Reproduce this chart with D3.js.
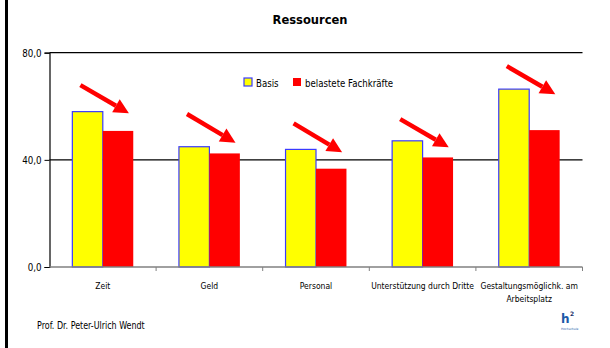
<!DOCTYPE html>
<html>
<head>
<meta charset="utf-8">
<script src="https://cdn.jsdelivr.net/npm/d3@7"></script>
<style>
  body { margin: 0; background: #fff; }
  svg { display: block; }
  text { font-family: "DejaVu Sans", sans-serif; fill: #000; }
</style>
</head>
<body>
<div></div>
<script>
var width = 610;
var height = 348;

// data
var categories = ["Zeit", "Geld", "Personal", "Unterstützung durch Dritte", "Gestaltungsmöglichk. am Arbeitsplatz"];
var seriesNames = ["Basis", "belastete Fachkräfte"];
var basis = [58.0, 44.9, 43.9, 47.1, 66.4];
var belastet = [50.8, 42.4, 36.7, 40.9, 51.1];
var yTicks = [0, 40, 80];
// decorative arrows, in value units (start -> tip)
var arrowFrom = [67.9, 57.1, 53.6, 55.2, 75.0];
var arrowTo = [57.4, 46.4, 42.8, 44.7, 64.5];

var colors = ["#ffff00", "#ff0000"];
var narrow = 0.83;

// squeeze text horizontally around its x (font on the slide is condensed)
var condense = (sel) => {
	sel.each(function () {
		var t = d3.select(this);
		var cx = +(t.attr("x") || 0);
		t.attr("transform", "translate(" + cx + ",0) scale(" + narrow + ",1) translate(" + (-cx) + ",0)");
	});
};

var svg = d3.select("div")
	.append("svg")
	.attr("width", width)
	.attr("height", height);

// left page border
svg.append("rect")
	.attr("x", 5).attr("y", 0)
	.attr("width", 3).attr("height", height)
	.attr("fill", "#000");

var x = d3.scaleBand()
	.domain(categories)
	.range([49.5, 582.5])
	.paddingInner(0)
	.paddingOuter(0);

var x1 = d3.scaleBand()
	.domain(seriesNames)
	.range([0, x.bandwidth()])
	.paddingInner(0)
	.paddingOuter(0.75);

var y = d3.scaleLinear()
	.domain([0, 80])
	.range([267, 52.7]);

// title
svg.append("text")
	.attr("x", 310)
	.attr("y", 24)
	.attr("text-anchor", "middle")
	.style("font-weight", "bold")
	.style("font-size", "11.5px")
	.text("Ressourcen");

// gridlines
svg.append("g")
	.selectAll("line")
	.data(yTicks.filter(d => d > 0))
	.enter()
	.append("line")
	.attr("x1", x.range()[0])
	.attr("x2", x.range()[1])
	.attr("y1", d => y(d))
	.attr("y2", d => y(d))
	.attr("stroke", "#000")
	.attr("stroke-width", 1.2);

// y axis
var yAxis = svg.append("g")
	.attr("transform", "translate(" + x.range()[0] + ",0)")
	.call(d3.axisLeft(y).tickValues(yTicks).tickSize(5).tickPadding(3)
		.tickFormat(d => d3.format(".1f")(d).replace(".", ",")));
yAxis.attr("font-family", null).attr("font-size", null);
yAxis.select(".domain").attr("stroke", "#000").attr("stroke-width", 1.2);
yAxis.selectAll(".tick line").attr("stroke", "#000");
yAxis.selectAll("text")
	.style("font-size", "10.5px")
	.call(condense);

// bars
var groups = svg.append("g")
	.selectAll("g")
	.data(categories)
	.enter()
	.append("g")
	.attr("transform", d => "translate(" + x(d) + ",0)");

groups.append("rect")
	.attr("x", x1(seriesNames[0]))
	.attr("y", (d, i) => y(basis[i]))
	.attr("width", x1.bandwidth())
	.attr("height", (d, i) => y(0) - y(basis[i]))
	.attr("fill", colors[0])
	.attr("stroke", "#3a3aff")
	.attr("stroke-width", 1.2);

groups.append("rect")
	.attr("x", x1(seriesNames[1]))
	.attr("y", (d, i) => y(belastet[i]))
	.attr("width", x1.bandwidth())
	.attr("height", (d, i) => y(0) - y(belastet[i]))
	.attr("fill", colors[1]);

// x axis (zero line)
var xAxis = svg.append("g")
	.attr("transform", "translate(0," + y(0) + ")");
xAxis.append("line")
	.attr("x1", x.range()[0])
	.attr("x2", x.range()[1])
	.attr("stroke", "#808080")
	.attr("stroke-width", 1.5);
xAxis.selectAll("line.tick")
	.data(categories.map(d => x(d)).concat([x.range()[1]]).slice(1))
	.enter()
	.append("line")
	.attr("class", "tick")
	.attr("x1", d => d).attr("x2", d => d)
	.attr("y1", 0).attr("y2", 4)
	.attr("stroke", "#808080");

// category labels, wrapped
var wrapped = {"Gestaltungsmöglichk. am Arbeitsplatz": ["Gestaltungsmöglichk. am", "Arbeitsplatz"]};
var catLabels = svg.append("g")
	.selectAll("text")
	.data(categories)
	.enter()
	.append("text")
	.attr("x", d => x(d) + x.bandwidth() / 2)
	.attr("y", 289)
	.attr("text-anchor", "middle")
	.style("font-size", "9.2px");
catLabels.each(function (d) {
	var lines = wrapped[d] || [d];
	d3.select(this).selectAll("tspan")
		.data(lines)
		.enter()
		.append("tspan")
		.attr("x", x(d) + x.bandwidth() / 2)
		.attr("dy", (l, i) => i === 0 ? 0 : 13.5)
		.text(l => l);
});
catLabels.call(condense);

// arrows
var arrows = svg.append("g");
categories.forEach((c, i) => {
	var x0 = x(c) + x.bandwidth() * 0.29;
	var xt = x(c) + x.bandwidth() * 0.745;
	var y0 = y(arrowFrom[i]);
	var yt = y(arrowTo[i]);
	var ang = Math.atan2(yt - y0, xt - x0);
	var headLen = 15, headW = 7.5;
	var bx = xt - headLen * Math.cos(ang), by = yt - headLen * Math.sin(ang);
	arrows.append("line")
		.attr("x1", x0).attr("y1", y0)
		.attr("x2", bx).attr("y2", by)
		.attr("stroke", "#ff0000")
		.attr("stroke-width", 4.5);
	var px = -Math.sin(ang), py = Math.cos(ang);
	arrows.append("path")
		.attr("d", "M" + xt + "," + yt +
			"L" + (bx + px * headW) + "," + (by + py * headW) +
			"L" + (bx - px * headW) + "," + (by - py * headW) + "Z")
		.attr("fill", "#ff0000");
});

// legend
var legend = svg.append("g").attr("transform", "translate(244,78)");
var legX = [0, 49];
seriesNames.forEach((s, i) => {
	legend.append("rect")
		.attr("x", legX[i]).attr("y", 0)
		.attr("width", 8).attr("height", 8)
		.attr("fill", colors[i])
		.attr("stroke", i === 0 ? "#3a3aff" : "none")
		.attr("stroke-width", 1.2);
	legend.append("text")
		.attr("x", legX[i] + 12)
		.attr("y", 9)
		.style("font-size", "10.4px")
		.text(s)
		.call(condense);
});

// footer
svg.append("text")
	.attr("x", 37)
	.attr("y", 329)
	.style("font-size", "9.6px")
	.text("Prof. Dr. Peter-Ulrich Wendt")
	.call(condense);

// small logo
var logo = svg.append("g").attr("transform", "translate(561,311)");
logo.append("text")
	.attr("x", 0).attr("y", 12)
	.style("font-weight", "bold")
	.style("font-size", "12px")
	.style("fill", "#1c5aa8")
	.text("h");
logo.append("text")
	.attr("x", 9).attr("y", 5)
	.style("font-weight", "bold")
	.style("font-size", "6px")
	.style("fill", "#1a2f6a")
	.text("2");
logo.append("text")
	.attr("x", 0).attr("y", 19)
	.style("font-size", "3px")
	.style("fill", "#1c5aa8")
	.text("Hochschule");
</script>
</body>
</html>
